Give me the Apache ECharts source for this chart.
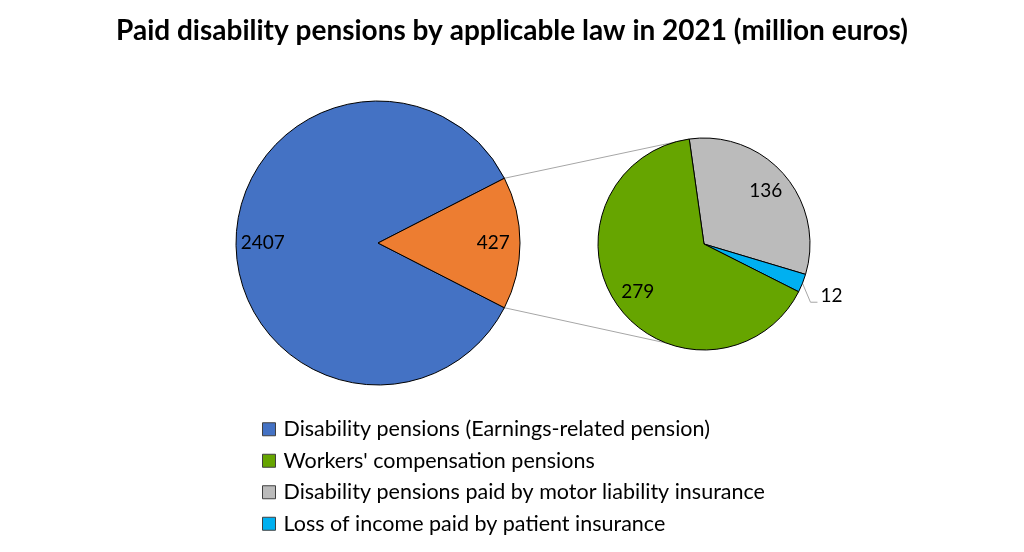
<!DOCTYPE html>
<html>
<head>
<meta charset="utf-8">
<script src="https://cdn.jsdelivr.net/npm/echarts@6/dist/echarts.min.js"></script>
<style>
html,body{margin:0;padding:0;background:#fff;}
#chart{width:1024px;height:552px;}
</style>
</head>
<body>
<div id="chart"></div>
<script>
// ---- data ----
const mainNames = ['Disability pensions (Earnings-related pension)', 'Other pensions'];
const mainValues = [2407, 427];
const subNames = ['Disability pensions paid by motor liability insurance', 'Loss of income paid by patient insurance', "Workers' compensation pensions"];
const subValues = [136, 12, 279];
const legendNames = ['Disability pensions (Earnings-related pension)', "Workers' compensation pensions", 'Disability pensions paid by motor liability insurance', 'Loss of income paid by patient insurance'];
const titleText = 'Paid disability pensions by applicable law in 2021 (million euros)';

// ---- styles / layout ----
const FONT = 'Lato';
const colors = {
  'Disability pensions (Earnings-related pension)': '#4472C4',
  'Other pensions': '#ED7D31',
  "Workers' compensation pensions": '#66A500',
  'Disability pensions paid by motor liability insurance': '#BBBBBB',
  'Loss of income paid by patient insurance': '#00B0F0'
};
const mainC = [378, 243], mainR = 142;
const subC = [704, 244], subR = 106;
const subStart = 98;

const mainTotal = mainValues.reduce((a, b) => a + b, 0);
const otherHalf = mainValues[1] / mainTotal * 180;
const mainStart = -otherHalf;
const subTotal = subValues.reduce((a, b) => a + b, 0);

function pt(c, r, deg) {
  const a = deg * Math.PI / 180;
  return [c[0] + r * Math.cos(a), c[1] - r * Math.sin(a)];
}
const p1 = pt(mainC, mainR, otherHalf), p2 = pt(mainC, mainR, -otherHalf);
const q1 = pt(subC, subR, subStart), q2 = pt(subC, subR, -111);

// mid angle of the small slice (for its outside label)
let acc = 0, smallMid = 0;
subValues.forEach((v, i) => {
  if (v < 50) smallMid = subStart - (acc + v / 2) / subTotal * 360;
  acc += v;
});
const edge = pt(subC, subR, smallMid);

const chart = echarts.init(document.getElementById('chart'));
const border = { borderColor: '#000', borderWidth: 1 };
const mkData = (names, vals, extra) => names.map((n, i) => Object.assign({
  name: n, value: vals[i], itemStyle: Object.assign({ color: colors[n] }, border)
}, extra ? extra(n, i) : {}));

chart.setOption({
  animation: false,
  title: {
    text: titleText, left: 'center', top: 12,
    textStyle: { fontFamily: FONT, fontWeight: 'bold', fontSize: 28, color: '#000' }
  },
  legend: {
    data: legendNames, orient: 'vertical', left: 257, top: 413,
    itemWidth: 13, itemHeight: 13, itemGap: 9, icon: 'rect',
    itemStyle: { borderColor: '#404040', borderWidth: 1 },
    textStyle: { fontFamily: FONT, fontSize: 21.5, color: '#000', lineHeight: 22.5, padding: [0, 0, 0, 3] },
    selectedMode: false
  },
  graphic: [
    { type: 'line', shape: { x1: p1[0], y1: p1[1], x2: q1[0], y2: q1[1] }, style: { stroke: '#A6A6A6', lineWidth: 1 }, z: 0 },
    { type: 'line', shape: { x1: p2[0], y1: p2[1], x2: q2[0], y2: q2[1] }, style: { stroke: '#A6A6A6', lineWidth: 1 }, z: 0 }
  ],
  series: [
    {
      type: 'pie', center: mainC, radius: [0, mainR], startAngle: mainStart, clockwise: true,
      silent: true, label: { show: false }, labelLine: { show: false }, z: 2,
      data: mkData(mainNames, mainValues)
    },
    {
      type: 'pie', center: subC, radius: [0, subR], startAngle: subStart, clockwise: true,
      silent: true, avoidLabelOverlap: false, z: 2,
      label: { show: false },
      labelLine: { show: false },
      labelLayout: function () {
        return {
          x: edge[0] + 18, y: edge[1] + 13, align: 'left', verticalAlign: 'middle',
          labelLinePoints: [[edge[0], edge[1]], [edge[0] + 8, edge[1] + 19], [edge[0] + 15, edge[1] + 19]]
        };
      },
      data: mkData(subNames, subValues, (n, i) => subValues[i] < 50 ? {
        label: { show: true, position: 'outside', fontFamily: FONT, fontSize: 19, color: '#000', formatter: '{c}' },
        labelLine: { show: true, length: 12, length2: 8, lineStyle: { color: '#A6A6A6', width: 1 } }
      } : {})
    },
    {
      type: 'pie', center: mainC, radius: [mainR * 0.58, mainR], startAngle: mainStart, clockwise: true,
      silent: true, z: 3, avoidLabelOverlap: false,
      itemStyle: { color: 'rgba(0,0,0,0)', borderWidth: 0 },
      label: { show: true, position: 'inside', fontFamily: FONT, fontSize: 19, color: '#000', formatter: '{c}' },
      labelLine: { show: false },
      data: mainNames.map((n, i) => ({ name: n, value: mainValues[i] }))
    },
    {
      type: 'pie', center: subC, radius: [subR * 0.48, subR], startAngle: subStart, clockwise: true,
      silent: true, z: 3, avoidLabelOverlap: false,
      itemStyle: { color: 'rgba(0,0,0,0)', borderWidth: 0 },
      label: { show: true, position: 'inside', fontFamily: FONT, fontSize: 19, color: '#000', formatter: '{c}' },
      labelLine: { show: false },
      data: subNames.map((n, i) => ({ name: n, value: subValues[i], label: { show: subValues[i] >= 50 } }))
    }
  ]
});
</script>
</body>
</html>
